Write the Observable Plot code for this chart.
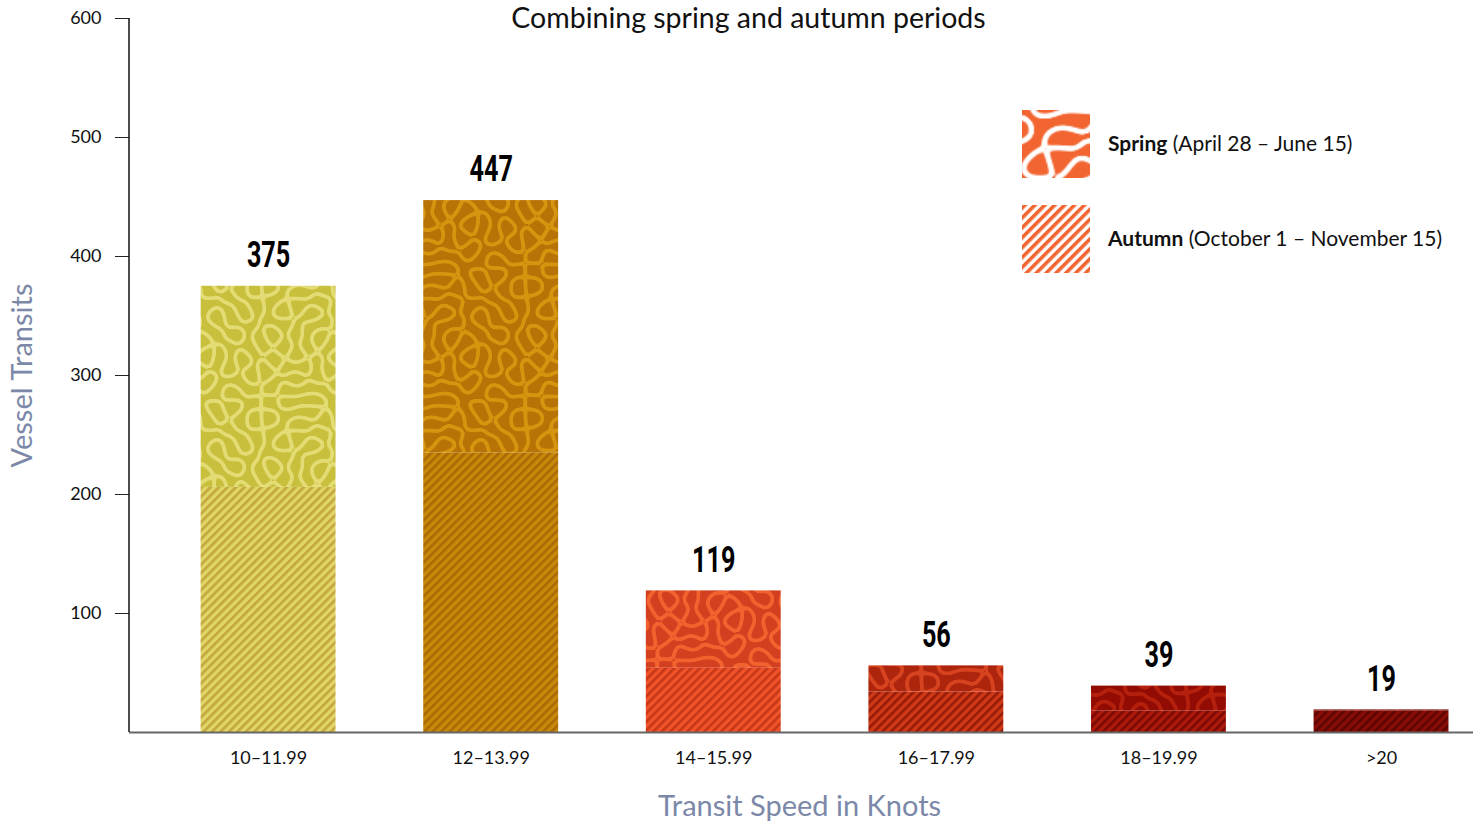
<!DOCTYPE html>
<html>
<head>
<meta charset="utf-8">
<script src="https://cdn.jsdelivr.net/npm/d3@7"></script>
<script src="https://cdn.jsdelivr.net/npm/@observablehq/plot@0.6"></script>
<style>
  html, body { margin: 0; padding: 0; background: #fff; overflow: hidden; }
  svg { display: block; }
</style>
</head>
<body>
<div id="chart"></div>
<script>
// Vessel transits by speed band, split into the two survey seasons
const speeds = ["10–11.99", "12–13.99", "14–15.99", "16–17.99", "18–19.99", ">20"];
const springTransits = [169, 212, 65, 22, 21, 1];
const autumnTransits = [206, 235, 54, 34, 18, 18];
const yTicks = [100, 200, 300, 400, 500, 600];
const legendLabels = [
  ["Spring", " (April 28 – June 15)"],
  ["Autumn", " (October 1 – November 15)"]
];

// Colours per speed band: spring background, spring maze lines, autumn background, autumn stripes
const palette = [
  ["#c8bf3c", "#e3db74", "#e0d566", "#c3a63c"],
  ["#b77306", "#d5950e", "#c8880a", "#a96a06"],
  ["#d2401f", "#f2622f", "#f0532a", "#c53717"],
  ["#ae250e", "#d7431f", "#d03917", "#961b08"],
  ["#930c04", "#b4200c", "#ad190a", "#790a04"],
  ["#7e0a04", "#9a1408", "#8a0c06", "#5c0602"]
];
const legendOrange = "#f26430";

// Wave components [m, n, phase] for the maze texture; integer m, n keep the tile seamless
const waves = [
  [6, 0, 0.3], [0, 6, 1.9], [5, 3, 4.1], [3, 5, 2.6], [5, -3, 5.3], [3, -5, 0.8],
  [4, 4, 3.7], [4, -4, 1.2], [6, 1, 2.2], [1, 6, 5.9], [6, -1, 4.6], [1, -6, 3.1],
  [5, 2, 0.5], [2, 5, 4.9], [5, -2, 2.9], [2, -5, 6.1]
];
const TILE = 132;

// Paint a tile whose light lines follow the nodal curves of a sum of waves
function mazeTile(bg, fg, halfWidth) {
  const c = document.createElement("canvas");
  c.width = TILE; c.height = TILE;
  const ctx = c.getContext("2d");
  const img = ctx.createImageData(TILE, TILE);
  const b = d3.rgb(bg), f = d3.rgb(fg);
  const k = 2 * Math.PI / TILE;
  for (let y = 0; y < TILE; y++) {
    for (let x = 0; x < TILE; x++) {
      let v = 0, gx = 0, gy = 0;
      for (const [m, n, p] of waves) {
        const a = k * (m * (x + 0.5) + n * (y + 0.5)) + p;
        v += Math.cos(a);
        const s = -Math.sin(a) * k;
        gx += s * m; gy += s * n;
      }
      const d = Math.abs(v) / Math.max(1e-6, Math.hypot(gx, gy));
      const t = Math.max(0, Math.min(1, halfWidth + 0.5 - d));
      const i = (y * TILE + x) * 4;
      img.data[i] = b.r + (f.r - b.r) * t;
      img.data[i + 1] = b.g + (f.g - b.g) * t;
      img.data[i + 2] = b.b + (f.b - b.b) * t;
      img.data[i + 3] = 255;
    }
  }
  ctx.putImageData(img, 0, 0);
  return c.toDataURL();
}

const rows = speeds.flatMap((speed, i) => [
  {speed, season: "Autumn", value: autumnTransits[i], fill: `url(#autumn-${i})`},
  {speed, season: "Spring", value: springTransits[i], fill: `url(#spring-${i})`}
]);
const totals = speeds.map((speed, i) => ({speed, total: springTransits[i] + autumnTransits[i]}));

const chart = Plot.plot({
  width: 1473,
  height: 821,
  marginLeft: 129,
  marginRight: 0,
  marginTop: 18,
  marginBottom: 89,
  style: {fontFamily: "Lato, 'Noto Sans', sans-serif", fontSize: "18px", color: "#111", background: "#fff"},
  x: {domain: speeds, paddingInner: 0.394, paddingOuter: 0.216, align: 0.745, round: false, label: null},
  y: {domain: [0, 600], label: null},
  color: {type: "identity"},
  marks: [
    Plot.barY(rows, {x: "speed", y: "value", fill: "fill"}),
    Plot.ruleY([0], {stroke: "#666", strokeWidth: 2}),
    Plot.axisY({ticks: yTicks, tickSize: 14, tickPadding: 14, label: null, stroke: "#222"}),
    Plot.axisX({tickSize: 0, tickPadding: 19, label: null}),
    Plot.text(totals, {
      x: "speed", y: "total", text: d => String(d.total), dy: -31,
      fontSize: 35, fontWeight: "bold", fontFamily: "Roboto, sans-serif",
      fill: "#000"
    }),
    Plot.text(["Vessel Transits"], {
      frameAnchor: "left", text: d => d, rotate: -90, dx: -107, textAnchor: "middle",
      fontSize: 29, fill: "#7b88a8"
    }),
    Plot.text(["Transit Speed in Knots"], {
      frameAnchor: "bottom", text: d => d, dx: -2, dy: 83, fontSize: 29, fill: "#7b88a8"
    }),
    Plot.text(["Combining spring and autumn periods"], {
      frameAnchor: "top", text: d => d, dx: -53, dy: -11, fontSize: 28.5, fill: "#111"
    })
  ]
});

document.getElementById("chart").appendChild(chart);

const svg = d3.select(chart);

// Narrow, tall figures for the bar totals
const totalStrings = totals.map(d => String(d.total));
svg.selectAll("text")
  .filter(function () { return totalStrings.includes(this.textContent) && this.closest("g[aria-label='text']"); })
  .each(function () {
    const t = this.getAttribute("transform") || "";
    this.setAttribute("transform", `${t} scale(0.72,1.05)`);
  });

// Fill patterns: maze texture for spring, diagonal hatching for autumn
const defs = svg.insert("defs", ":first-child");
palette.forEach(([sBg, sFg, aBg, aFg], i) => {
  const sp = defs.append("pattern")
    .attr("id", `spring-${i}`).attr("patternUnits", "userSpaceOnUse")
    .attr("width", TILE).attr("height", TILE);
  sp.append("image").attr("href", mazeTile(sBg, sFg, 2.0))
    .attr("width", TILE).attr("height", TILE);
  const ap = defs.append("pattern")
    .attr("id", `autumn-${i}`).attr("patternUnits", "userSpaceOnUse")
    .attr("width", 6).attr("height", 6).attr("patternTransform", "rotate(45)");
  ap.append("rect").attr("width", 6).attr("height", 6).attr("fill", aBg);
  ap.append("rect").attr("width", 2.6).attr("height", 6).attr("fill", aFg);
});
const lsp = defs.append("pattern")
  .attr("id", "legend-spring").attr("patternUnits", "userSpaceOnUse")
  .attr("width", TILE).attr("height", TILE)
  .attr("patternTransform", "translate(1010,96) scale(1.5)");
lsp.append("image").attr("href", mazeTile(legendOrange, "#ffffff", 1.9))
  .attr("width", TILE).attr("height", TILE);
const lap = defs.append("pattern")
  .attr("id", "legend-autumn").attr("patternUnits", "userSpaceOnUse")
  .attr("width", 7).attr("height", 7).attr("patternTransform", "rotate(45)");
lap.append("rect").attr("width", 7).attr("height", 7).attr("fill", "#fff");
lap.append("rect").attr("width", 3.6).attr("height", 7).attr("fill", legendOrange);

// Vertical axis line
svg.append("line")
  .attr("x1", 129).attr("x2", 129).attr("y1", 18).attr("y2", 732)
  .attr("stroke", "#111").attr("stroke-width", 1.5);

// Legend
const legend = svg.append("g")
  .attr("font-family", "Lato, 'Noto Sans', sans-serif")
  .attr("text-anchor", "start");
["legend-spring", "legend-autumn"].forEach((id, i) => {
  const y0 = 110 + i * 95;
  legend.append("rect").attr("x", 1022).attr("y", y0).attr("width", 68).attr("height", 68)
    .attr("fill", `url(#${id})`);
  const t = legend.append("text").attr("x", 1108).attr("y", y0 + 34)
    .attr("dy", "0.35em").attr("font-size", 21).attr("fill", "#111");
  t.append("tspan").attr("font-weight", "bold").text(legendLabels[i][0]);
  t.append("tspan").text(legendLabels[i][1]);
});
</script>
</body>
</html>
